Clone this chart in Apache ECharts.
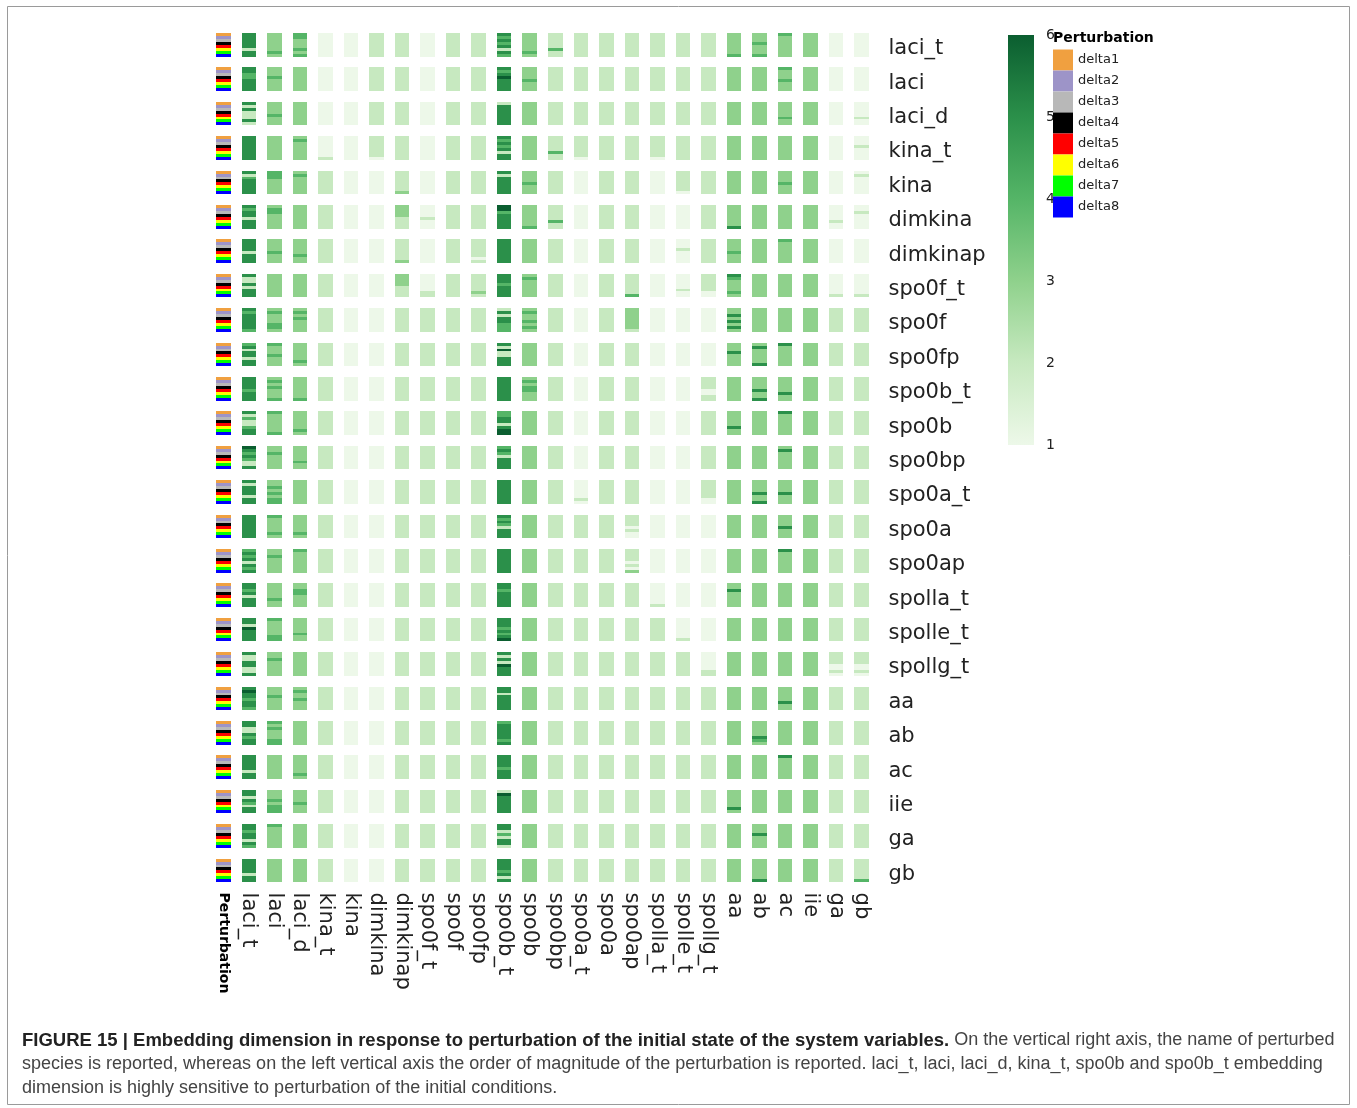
<!DOCTYPE html>
<html><head><meta charset="utf-8">
<script src="https://cdn.jsdelivr.net/npm/echarts@6/dist/echarts.min.js"></script>
<style>html,body{margin:0;padding:0;background:#fff}#c{width:1357px;height:1108px}</style>
</head><body><div id="c"></div>
<script>
// ---------- labels ----------
const columns = ['Perturbation','laci_t','laci','laci_d','kina_t','kina','dimkina','dimkinap','spo0f_t','spo0f','spo0fp','spo0b_t','spo0b','spo0bp','spo0a_t','spo0a','spo0ap','spolla_t','spolle_t','spollg_t','aa','ab','ac','iie','ga','gb'];
const species = ['laci_t','laci','laci_d','kina_t','kina','dimkina','dimkinap','spo0f_t','spo0f','spo0fp','spo0b_t','spo0b','spo0bp','spo0a_t','spo0a','spo0ap','spolla_t','spolle_t','spollg_t','aa','ab','ac','iie','ga','gb'];
const deltas = ['delta1','delta2','delta3','delta4','delta5','delta6','delta7','delta8'];
const deltaColors = ['#f0a040','#9d94c8','#b8b8b8','#000000','#ff0000','#ffff00','#00ff00','#0000ff'];
const colorbarTicks = [1,2,3,4,5,6];
const greens = ['#edf8e9','#c7e9c0','#8fd18c','#55b567','#2b904a','#0b5e30'];

// ---------- embedding dimension per perturbed species ----------
// one entry per column (laci_t ... gb); each entry lists delta1..delta8 (a single digit = same for all 8)
const r_laci_t   = ['55555255','33333343','44333434','1','1','2','2','1','2','2','54545254','33333343','22222422','2','2','2','2','2','2','33333334','33343334','43333333','3','1','1'];
const r_laci     = ['55445555','33343333','3','1','1','2','2','1','2','2','54565555','33334333','2','2','2','2','2','2','2','3','3','43334333','3','1','1'];
const r_laci_d   = ['52522252','33334333','3','1','1','2','2','1','2','2','25555555','3','2','2','2','2','2','2','2','3','3','33333433','3','1','11111211'];
const r_kina_t   = ['5','3','34333333','11111112','1','22222221','2','1','2','2','54545255','3','22222422','22222221','2','2','22222221','2','2','3','3','3','3','1','11121111'];
const r_kina     = ['52455555','44433333','34333333','2','1','1','22222223','1','2','2','52555555','33334333','2','1','2','2','1','22222221','2','3','3','33334333','3','1','12111111'];
const r_dimkina  = ['54552555','34433333','3','2','1','1','33332222','11112111','2','2','66455555','33333334','22222422','1','2','2','1','1','2','33333335','3','3','3','11111211','11211111'];
const r_dimkinap = ['55552555','33334333','33333433','2','1','1','22222223','1','2','22222212','5','3','2','1','2','2','1','11121111','2','33334333','3','43333333','3','1','1'];
const r_spo0f_t  = ['52252555','3','3','2','1','1','33332222','11111122','2','22222232','55545555','34333333','2','1','2','22222224','1','11111211','22222211','54333343','3','3','3','11111112','11111112'];
const r_spo0f    = ['54555554','34333443','34343333','2','1','1','2','2','2','2','25255444','34334343','2','1','2','33333332','1','1','1','33535353','3','3','3','2','2'];
const r_spo0fp   = ['45255255','43334333','33333343','2','1','1','2','2','2','2','52622555','3','2','1','2','2','1','1','1','33353333','35333335','53333333','3','2','2'];
const r_spo0b_t  = ['55554555','34343334','33333334','2','1','1','2','2','2','2','5','34344333','2','1','2','2','1','1','22221122','3','33335335','33333533','3','2','2'];
const r_spo0b    = ['52422455','43333334','33333343','2','1','1','2','2','2','2','44552566','3','2','1','2','2','1','1','2','33333533','3','53333333','3','2','2'];
const r_spo0bp   = ['65454225','33433333','33333433','2','1','1','2','2','2','2','45425555','3','2','1','2','2','1','1','2','3','3','35333333','3','2','2'];
const r_spo0a_t  = ['52555255','33434344','3','2','1','1','2','2','2','2','5','3','2','11111121','2','2','1','1','22222211','3','33335335','33335333','3','2','2'];
const r_spo0a    = ['5','43333343','33333343','2','1','1','2','2','2','2','54542555','3','2','2','2','22221211','1','1','1','3','3','33335333','3','2','2'];
const r_spo0ap   = ['45452545','33433333','43333333','2','1','1','2','2','2','2','5','3','2','2','2','22221213','1','1','1','3','3','53333333','3','2','2'];
const r_spolla_t = ['55452555','33333433','33443333','2','1','1','2','2','2','2','55455555','3','2','2','2','2','11111112','1','1','33533333','3','3','3','2','2'];
const r_spolle_t = ['55265555','43333344','33333433','2','1','1','2','2','2','2','55545456','3','2','2','2','2','2','11111112','1','3','3','3','3','2','2'];
const r_spollg_t = ['52255225','33433333','3','2','1','1','2','2','2','2','52526555','3','2','2','2','2','2','2','11111122','3','3','3','3','22221121','22221121'];
const r_aa       = ['56554554','33343333','34334333','2','1','1','2','2','2','2','55255555','3','2','2','2','2','2','2','2','3','3','33333533','3','2','2'];
const r_ab       = ['55225455','43433344','3','2','1','1','2','2','2','2','45555545','3','2','2','2','2','2','2','2','3','33333543','3','3','2','2'];
const r_ac       = ['55555255','3','33333343','2','1','1','2','2','2','2','55554555','3','2','2','2','2','2','2','2','3','3','53333333','3','2','2'];
const r_iie      = ['55254255','33343444','33334333','2','1','1','2','2','2','2','26555555','3','2','2','2','2','2','2','2','33333353','3','3','3','2','2'];
const r_ga       = ['55455254','43333333','3','2','1','1','2','2','2','2','55242552','3','2','2','2','2','2','2','2','3','33353333','3','3','2','2'];
const r_gb       = ['55555255','3','3','2','1','1','2','2','2','2','55554525','3','2','2','2','2','2','2','2','3','33333335','3','3','2','22222224'];

const rows = [r_laci_t,r_laci,r_laci_d,r_kina_t,r_kina,r_dimkina,r_dimkinap,r_spo0f_t,r_spo0f,r_spo0fp,r_spo0b_t,r_spo0b,r_spo0bp,r_spo0a_t,r_spo0a,r_spo0ap,r_spolla_t,r_spolle_t,r_spollg_t,r_aa,r_ab,r_ac,r_iie,r_ga,r_gb];

// ---------- build data ----------
const cellData = [];
rows.forEach((row, r) => {
  row.forEach((cell, c) => {
    const s = cell.length === 1 ? cell.repeat(8) : cell;
    for (let k = 0; k < 8; k++) cellData.push([c + 1, r, k, Number(s[k])]);
  });
});

const BW = 0.57, BH = 0.683;
function blockRect(api, sub) {
  const c = api.coord([api.value(0), api.value(1)]);
  const sz = api.size([1, 1]);
  const w = sz[0] * BW, h = sz[1] * BH, sh = h / 8;
  const top = c[1] - h / 2;
  const x0 = Math.round(c[0] - w / 2), x1 = Math.round(c[0] + w / 2);
  const y0 = Math.round(top + sub * sh), y1 = Math.round(top + (sub + 1) * sh);
  return { x: x0, y: y0, width: x1 - x0, height: y1 - y0 };
}
const drawCell = (params, api) => ({
  type: 'rect', shape: blockRect(api, api.value(2)),
  style: { fill: api.visual('color'), stroke: null, lineWidth: 0 }
});

const series = [{
  name: 'embedding', type: 'custom', xAxisIndex: 0, yAxisIndex: 0,
  encode: { x: 0, y: 1 }, data: cellData, renderItem: drawCell
}];
deltas.forEach((d, i) => {
  series.push({
    name: d, type: 'custom', xAxisIndex: 0, yAxisIndex: 0, encode: { x: 0, y: 1 },
    itemStyle: { color: deltaColors[i] },
    data: species.map((s, r) => [0, r, i]),
    renderItem: drawCell
  });
});
series.push({
  name: 'colorbar', type: 'custom', xAxisIndex: 1, yAxisIndex: 1,
  data: [[0, colorbarTicks[0], 1, colorbarTicks[colorbarTicks.length - 1]]],
  renderItem: (params, api) => {
    const p1 = api.coord([api.value(0), api.value(1)]);
    const p2 = api.coord([api.value(2), api.value(3)]);
    const stops = greens.map((col, i) => ({ offset: i / (greens.length - 1), color: col }));
    return { type: 'rect', shape: { x: p1[0], y: p2[1], width: p2[0] - p1[0], height: p1[1] - p2[1] },
      style: { fill: new echarts.graphic.LinearGradient(0, 1, 0, 0, stops) } };
  }
});

const chart = echarts.init(document.getElementById('c'), null, { renderer: 'canvas' });
const FONT = 'DejaVu Sans';
chart.setOption({
  animation: false,
  backgroundColor: '#ffffff',
  grid: [
    { left: 210.5, top: 27.6, width: 664, height: 860 },
    { left: 1008, top: 35, width: 26, height: 410 }
  ],
  xAxis: [
    { type: 'category', gridIndex: 0, data: columns, position: 'bottom',
      axisLine: { show: false }, axisTick: { show: false }, splitLine: { show: false },
      axisLabel: { interval: 0, rotate: -90, margin: 5, fontSize: 21, color: '#222', fontFamily: FONT,
        formatter: v => v === 'Perturbation' ? '{p|Perturbation}' : v,
        rich: { p: { fontSize: 14, fontWeight: 'bold', color: '#000', fontFamily: FONT } } } },
    { type: 'value', gridIndex: 1, min: 0, max: 1, show: false }
  ],
  yAxis: [
    { type: 'category', gridIndex: 0, data: species, inverse: true, position: 'right',
      axisLine: { show: false }, axisTick: { show: false }, splitLine: { show: false },
      axisLabel: { margin: 14, formatter: v => '{s|' + v + '}',
        rich: { s: { fontSize: 21, color: '#222', fontFamily: FONT, padding: [8, 0, 0, 0] } } } },
    { type: 'value', gridIndex: 1, min: 1, max: 6, interval: 1, position: 'right',
      axisLine: { show: false }, axisTick: { show: false }, splitLine: { show: false },
      axisLabel: { fontSize: 14, color: '#222', margin: 12, fontFamily: FONT } }
  ],
  visualMap: { type: 'continuous', show: false, min: 1, max: 6, dimension: 3, seriesIndex: 0,
    inRange: { color: greens } },
  legend: { data: deltas, orient: 'vertical', left: 1053, top: 49.5, itemWidth: 20, itemHeight: 21,
    itemGap: 0, icon: 'rect', selectedMode: false, z: 10, padding: 0,
    textStyle: { fontSize: 13, color: '#222', fontFamily: FONT } },
  graphic: [
    { type: 'rect', z: -1, shape: { x: 7.5, y: 6.5, width: 1342, height: 1098 },
      style: { fill: null, stroke: '#9a9a9a', lineWidth: 1 } },
    { type: 'text', left: 1053, top: 31, z: 11,
      style: { text: 'Perturbation', font: 'bold 14px "DejaVu Sans"', fill: '#000' } },
    { type: 'text', left: 22, top: 1031,
      style: {
        text: '{b|FIGURE 15 | Embedding dimension in response to perturbation of the initial state of the system variables.}{n| On the vertical right axis, the name of perturbed}\n' +
              '{n|species is reported, whereas on the left vertical axis the order of magnitude of the perturbation is reported. laci_t, laci, laci_d, kina_t, spo0b and spo0b_t embedding}\n' +
              '{n|dimension is highly sensitive to perturbation of the initial conditions.}',
        rich: {
          b: { fontFamily: 'Liberation Sans', fontSize: 18.5, fontWeight: 'bold', fill: '#222', lineHeight: 24 },
          n: { fontFamily: 'Liberation Sans', fontSize: 18, fill: '#444', lineHeight: 24 }
        }
      } }
  ],
  series: series
});
</script></body></html>
